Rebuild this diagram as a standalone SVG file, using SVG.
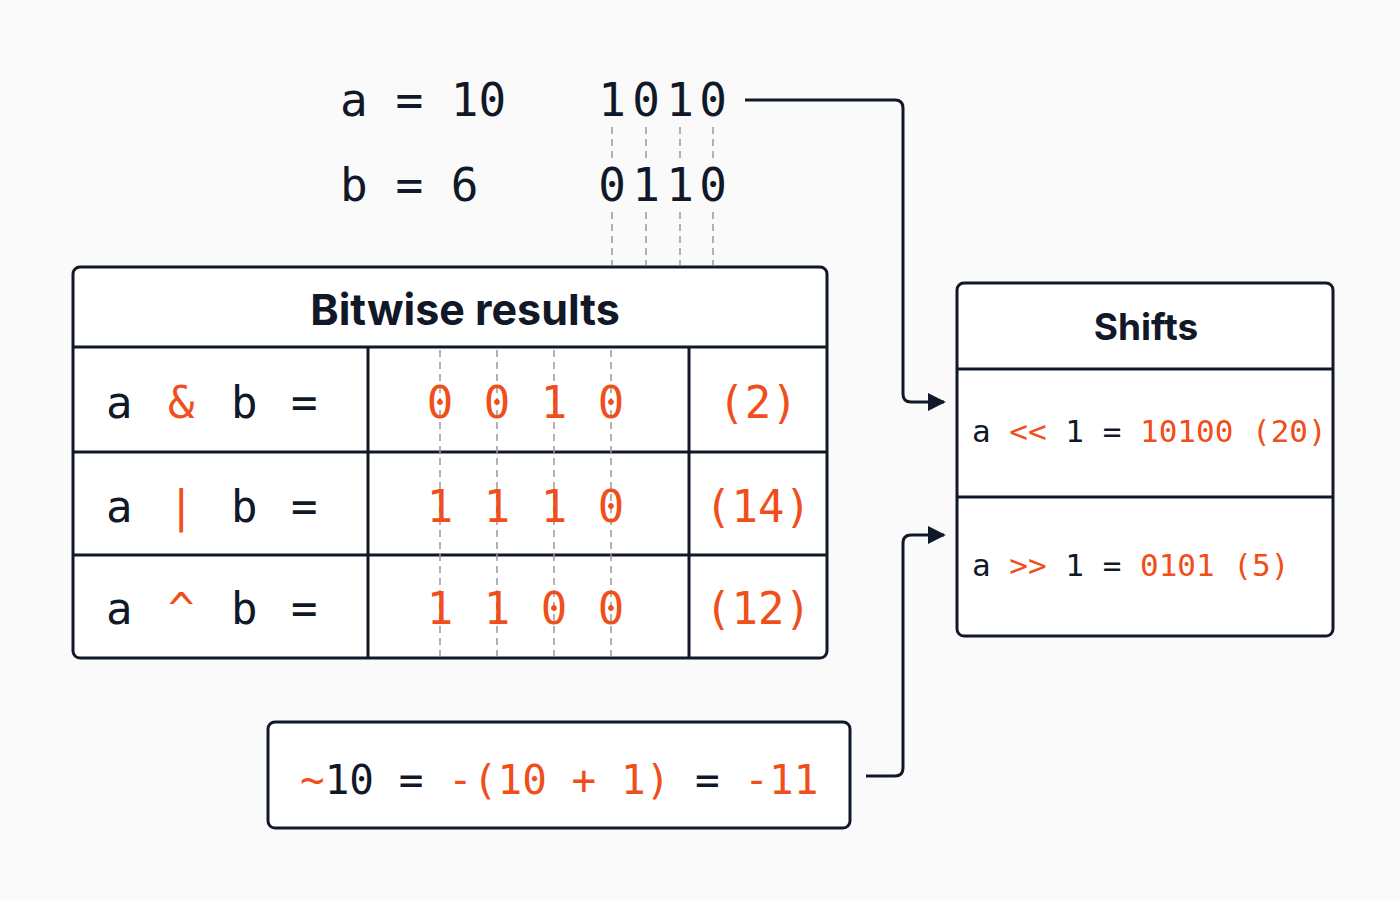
<svg xmlns="http://www.w3.org/2000/svg" width="1400" height="900" viewBox="0 0 1400 900">
<style>
.m{font-family:"DejaVu Sans Mono",monospace;fill:#111827}
.o{fill:#f04e1a}
.t{font-family:"Inter","DejaVu Sans",sans-serif;font-weight:700;fill:#111827;text-anchor:middle}
.box{fill:#fff;stroke:#111827;stroke-width:3}
.ln{stroke:#111827;stroke-width:3}
.d{stroke:#999;stroke-width:1.5;stroke-dasharray:7 5}
.c{fill:none;stroke:#111827;stroke-width:3;stroke-linejoin:round}
</style>
<defs><marker id="ah" viewBox="0 0 10 10" refX="9" refY="5" markerWidth="6" markerHeight="6" orient="auto" markerUnits="strokeWidth"><path d="M0,0L10,5L0,10z" fill="#111827"/></marker></defs>
<rect width="1400" height="900" fill="#fafafa"/>
<g id="inputs" class="m" font-size="46">
<text x="340" y="116">a = 10</text>
<text x="340" y="201">b = 6</text>
<g text-anchor="middle"><text x="612" y="116">1</text><text x="646" y="116">0</text><text x="680" y="116">1</text><text x="713" y="116">0</text>
<text x="612" y="201">0</text><text x="646" y="201">1</text><text x="680" y="201">1</text><text x="713" y="201">0</text></g>
</g>
<g id="guides">
<path class="d" d="M612,127V160M646,127V160M680,127V160M713,127V160M612,212V265M646,212V265M680,212V265M713,212V265"/>
</g>
<g id="bitwise">
<rect class="box" x="73" y="267" width="754" height="391" rx="7"/>
<line class="ln" x1="73" y1="347" x2="827" y2="347"/><line class="ln" x1="73" y1="452" x2="827" y2="452"/><line class="ln" x1="73" y1="555" x2="827" y2="555"/>
<line class="ln" x1="368" y1="347" x2="368" y2="658"/><line class="ln" x1="689" y1="347" x2="689" y2="658"/>
<line class="d" x1="440" y1="350" x2="440" y2="656"/><line class="d" x1="497" y1="350" x2="497" y2="656"/><line class="d" x1="554" y1="350" x2="554" y2="656"/><line class="d" x1="611" y1="350" x2="611" y2="656"/>
<text class="t" x="465" y="325" font-size="43">Bitwise results</text>
<g class="m" font-size="44">
<text x="106" y="418">a</text><text x="168" y="418" class="o">&amp;</text><text x="231" y="418">b</text><text x="291" y="418">=</text>
<text x="106" y="522">a</text><text x="168" y="522" class="o">|</text><text x="231" y="522">b</text><text x="291" y="522">=</text>
<text x="106" y="624">a</text><text x="168" y="624" class="o">^</text><text x="231" y="624">b</text><text x="291" y="624">=</text>
<g class="o" text-anchor="middle">
<text x="440" y="418">0</text><text x="497" y="418">0</text><text x="554" y="418">1</text><text x="611" y="418">0</text><text x="758" y="418">(2)</text>
<text x="440" y="522">1</text><text x="497" y="522">1</text><text x="554" y="522">1</text><text x="611" y="522">0</text><text x="758" y="522">(14)</text>
<text x="440" y="624">1</text><text x="497" y="624">1</text><text x="554" y="624">0</text><text x="611" y="624">0</text><text x="758" y="624">(12)</text>
</g></g>
</g>
<g id="shifts">
<rect class="box" x="957" y="283" width="376" height="353" rx="7"/>
<line class="ln" x1="957" y1="369" x2="1333" y2="369"/><line class="ln" x1="957" y1="497" x2="1333" y2="497"/>
<text class="t" x="1146" y="340" font-size="37">Shifts</text>
<g class="m" font-size="31" xml:space="preserve">
<text x="972" y="442">a <tspan class="o">&lt;&lt;</tspan> 1 = <tspan class="o">10100 (20)</tspan></text>
<text x="972" y="576">a <tspan class="o">&gt;&gt;</tspan> 1 = <tspan class="o">0101 (5)</tspan></text>
</g>
</g>
<g id="not">
<rect class="box" x="268" y="722" width="582" height="106" rx="7"/>
<text class="m" x="300" y="794" font-size="41" xml:space="preserve"><tspan class="o">~</tspan>10 = <tspan class="o">-(10 + 1)</tspan> = <tspan class="o">-11</tspan></text>
</g>
<g id="connectors">
<path class="c" d="M745,100H895Q903,100 903,108V394Q903,402 911,402H944" marker-end="url(#ah)"/>
<path class="c" d="M866,776H895Q903,776 903,768V543Q903,535 911,535H944" marker-end="url(#ah)"/>
</g>
</svg>
